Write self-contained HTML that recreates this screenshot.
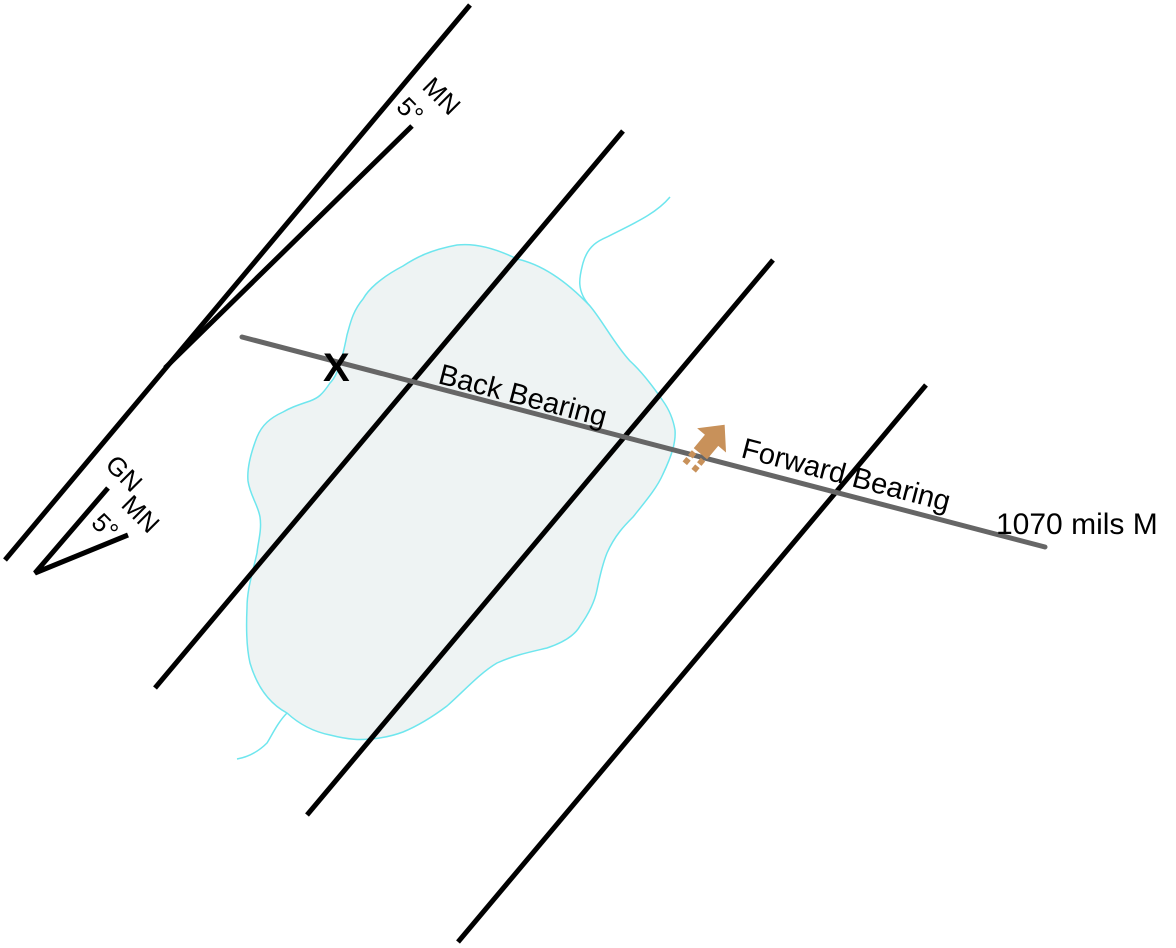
<!DOCTYPE html>
<html><head><meta charset="utf-8"><style>html,body{margin:0;padding:0;background:#fff}svg{display:block}</style></head>
<body>
<svg width="1176" height="948" viewBox="0 0 1176 948" xmlns="http://www.w3.org/2000/svg" font-family="Liberation Sans, Arial, sans-serif">
<rect width="1176" height="948" fill="#fff"/>
<!-- lake -->
<path d="M590,306 C575,290 580,275 583,263 C588,245 600,240 607,237 C630,225 655,215 670,197" fill="none" stroke="#6ee6ee" stroke-width="1.5"/>
<path d="M590,306 C570,285 545,265 517,259 C495,248 475,243 457,245 C430,250 415,258 403,266 C380,278 368,290 363,299 C352,312 350,325 347,335 C342,360 338,375 330,383 C322,395 318,398 310,401 C295,406 290,408 283,412 C270,418 262,425 257,437 C250,455 247,470 248,481 C250,495 258,505 260,517 C262,530 258,542 257,553 C252,575 247,590 247,608 C246,630 247,650 250,663 C258,690 272,705 287,713 C300,725 315,732 330,735 C350,740 360,740 370,739 C385,738 395,735 403,732 C420,725 435,715 447,706 C465,690 480,673 497,663 C515,655 530,652 547,648 C565,642 575,635 580,626 C590,612 595,600 597,590 C600,575 603,563 607,553 C615,535 625,525 633,517 C645,502 657,488 663,474 C672,455 676,442 675,430 C673,418 668,408 663,401 C652,385 642,372 630,361 C615,345 602,320 590,306 Z" fill="#eef3f3" stroke="#6ee6ee" stroke-width="1.5"/>
<path d="M287,713 C278,722 272,735 267,743 C258,752 248,757 237,759" fill="none" stroke="#6ee6ee" stroke-width="1.5"/>
<!-- grid lines -->
<g stroke="#000" stroke-width="5" stroke-linecap="butt" fill="none">
<line x1="470" y1="5" x2="5" y2="560"/>
<line x1="412" y1="126" x2="165" y2="368"/>
<line x1="623" y1="131" x2="155" y2="688"/>
<line x1="773" y1="260" x2="307" y2="815"/>
<line x1="926" y1="385" x2="458" y2="942"/>
<polyline points="108,488 35,573 128,535"/>
</g>
<!-- bearing line -->
<line x1="242" y1="337" x2="1045" y2="547" stroke="#666" stroke-width="5" stroke-linecap="round"/>
<!-- arrow -->
<g transform="translate(706,447) rotate(40) scale(1.45)" fill="#c8915a">
<polygon points="0,-20 13,-6 6,-6 6,6 -6,6 -6,-6 -13,-6"/>
<rect x="-6" y="8" width="4" height="4"/><rect x="2" y="8" width="4" height="4"/>
<rect x="-6" y="14" width="4" height="4"/><rect x="2" y="14" width="4" height="4"/>
</g>
<!-- labels -->
<text x="323" y="381" font-size="40" font-weight="bold">X</text>
<text transform="translate(437,383) rotate(14.7)" font-size="29">Back Bearing</text>
<text transform="translate(740,457) rotate(14.7)" font-size="29">Forward Bearing</text>
<text x="996" y="534" font-size="30">1070 mils M</text>
<text transform="translate(421,88) rotate(45)" font-size="26">MN</text>
<text transform="translate(395,108) rotate(45)" font-size="26">5°</text>
<text transform="translate(104,466) rotate(45)" font-size="26">GN</text>
<text transform="translate(120,506) rotate(45)" font-size="26">MN</text>
<text transform="translate(90,524) rotate(45)" font-size="26">5°</text>
</svg>
</body></html>
